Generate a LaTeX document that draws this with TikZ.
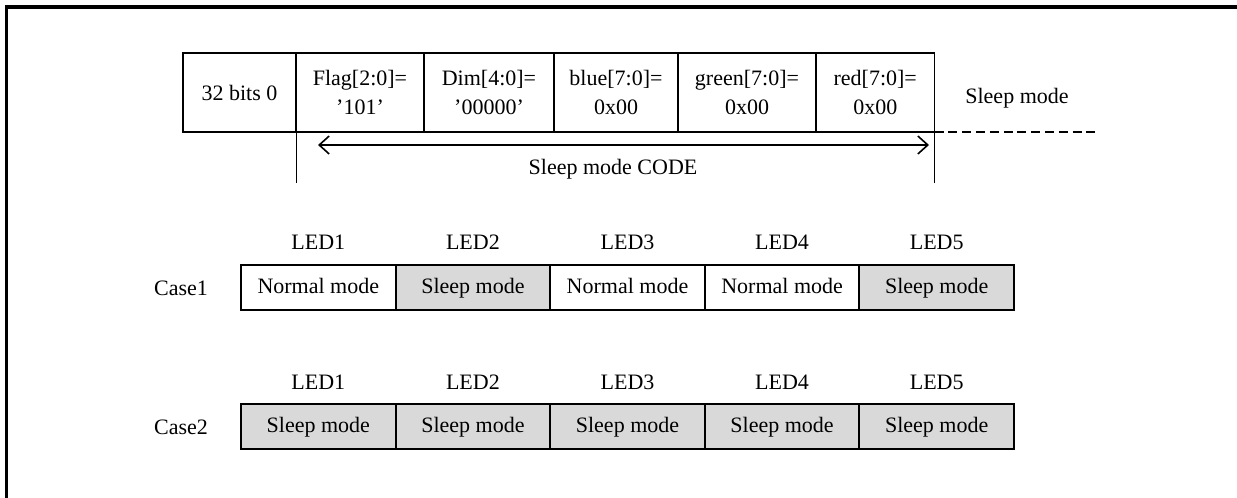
\documentclass[tikz,border=0pt]{standalone}
\usepackage{fontspec}
\setmainfont{Liberation Serif}
\usetikzlibrary{arrows.meta,calc}
\definecolor{sleepgray}{HTML}{D9D9D9}
\begin{document}
\begin{tikzpicture}[x=0.5pt,y=-0.5pt,
  font=\fontsize{11}{14.5}\selectfont,
  cell/.style={draw, line width=0.9pt, inner sep=0pt, outer sep=0pt, align=center,
               anchor=north west, minimum height=39.5pt},
  ledbox/.style={draw, line width=1pt, inner sep=0pt, outer sep=0pt, anchor=north west,
               minimum width=77.3pt, minimum height=22.5pt, text height=8.4pt, text depth=2.2pt},
  sleepbox/.style={ledbox, fill=sleepgray},
  lbl/.style={inner sep=0pt, text height=8.4pt, text depth=2.2pt},
  thinline/.style={line width=0.5pt},
  frameline/.style={line width=1.6pt}]
\useasboundingbox (0,0) rectangle (1237,498);
% outer frame
\coordinate (fbl) at (6.5,498);
\coordinate (ftl) at (6.5,7);
\coordinate (ftr) at (1237,7);
\draw[frameline] (fbl) -- (ftl) -- (ftr);

% top code row
\node[cell, minimum width=56.5pt] (c0) at (183,53) {32 bits 0};
\node[cell, minimum width=64pt] (c1) at (c0.north east) {Flag[2:0]=\\'101'};
\node[cell, minimum width=65pt] (c2) at (c1.north east) {Dim[4:0]=\\'00000'};
\node[cell, minimum width=62pt] (c3) at (c2.north east) {blue[7:0]=\\0x00};
\node[cell, minimum width=69pt] (c4) at (c3.north east) {green[7:0]=\\0x00};
\node[cell, minimum width=59.25pt] (c5) at (c4.north east) {red[7:0]=\\0x00};

\node[lbl] (sm) at (1017,97) {Sleep mode};
\coordinate (dend) at (1097,132);
\draw[line width=0.9pt, dash pattern=on 4.5pt off 2.4pt] (c5.south east) -- (dend);

% extent markers
\coordinate (v1) at (296,183);
\coordinate (v2) at (934.5,183);
\draw[thinline] (c1.south west) -- (v1);
\draw[thinline] (c5.south east) -- (v2);
\coordinate (a1) at (318,145);
\coordinate (a2) at (929,145);
\draw[line width=0.8pt, {Straight Barb[length=5pt,width=9pt]}-{Straight Barb[length=5pt,width=9pt]}] (a1) -- (a2);
\node[lbl] (code) at (613,168) {Sleep mode CODE};

% Case 1
\node[lbl] (case1) at (181,289) {Case1};
\node[ledbox]   (p1) at (241,265) {Normal mode};
\node[sleepbox] (p2) at (p1.north east) {Sleep mode};
\node[ledbox]   (p3) at (p2.north east) {Normal mode};
\node[ledbox]   (p4) at (p3.north east) {Normal mode};
\node[sleepbox] (p5) at (p4.north east) {Sleep mode};
\foreach \i in {1,...,5} {
  \node[lbl] (l\i) at ($(p\i.north)+(0,-22)$) {LED\i};
}

% Case 2
\node[lbl] (case2) at (181,428) {Case2};
\node[sleepbox] (q1) at (241,404) {Sleep mode};
\node[sleepbox] (q2) at (q1.north east) {Sleep mode};
\node[sleepbox] (q3) at (q2.north east) {Sleep mode};
\node[sleepbox] (q4) at (q3.north east) {Sleep mode};
\node[sleepbox] (q5) at (q4.north east) {Sleep mode};
\foreach \i in {1,...,5} {
  \node[lbl] (m\i) at ($(q\i.north)+(0,-21)$) {LED\i};
}
\end{tikzpicture}
\end{document}
